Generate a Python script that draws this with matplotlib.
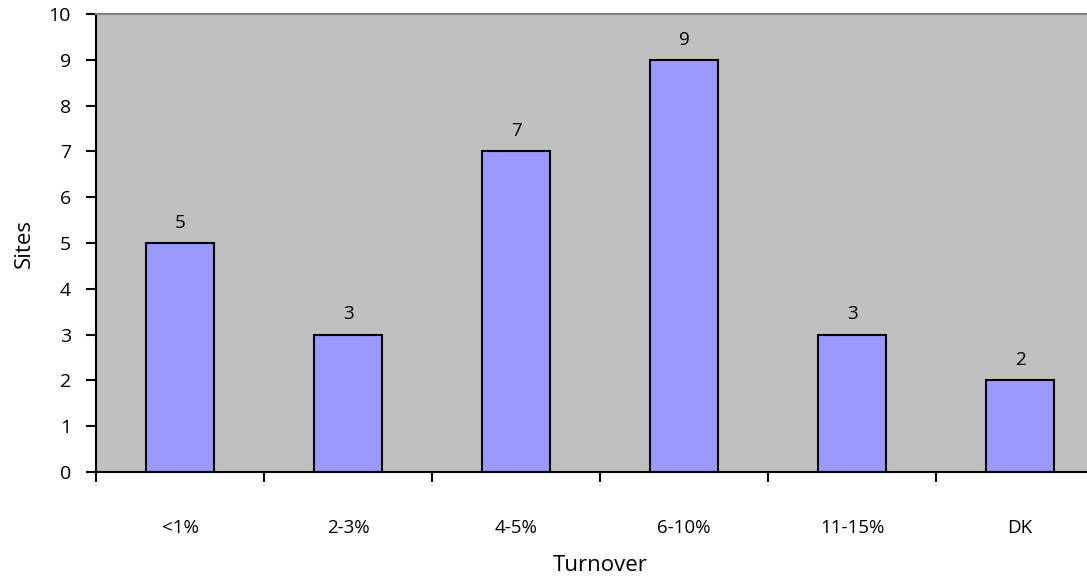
import matplotlib.pyplot as plt
import numpy as np

categories = ['<1%', '2-3%', '4-5%', '6-10%', '11-15%', 'DK']
sites = [5, 3, 7, 9, 3, 2]

plt.rcParams['font.family'] = ['Open Sans', 'DejaVu Sans']

fig = plt.figure(figsize=(10.87, 5.83), dpi=100)
# plot area runs off the right edge, as in the original
ax = fig.add_axes([96 / 1087, 1 - 472 / 583, 1008 / 1087, 458 / 583])
ax.set_facecolor('#C0C0C0')

x = np.arange(len(categories))
ax.bar(x, sites, width=0.41, color='#9999FF', edgecolor='black', linewidth=1.5, zorder=2)
for xi, v in zip(x, sites):
    ax.annotate(str(v), (xi, v), xytext=(0, 8), textcoords='offset points',
                ha='center', va='bottom', fontsize=13.5)

ax.set_xlim(-0.5, 5.5)
ax.set_ylim(0, 10)
ax.set_yticks(range(0, 11))
ax.tick_params(axis='y', direction='out', length=7, width=1.5, labelsize=14, pad=11)

ax.set_xticks(x)
ax.set_xticklabels(categories)
ax.tick_params(axis='x', which='major', length=0, labelsize=13.5, pad=34)
ax.set_xticks(np.arange(-0.5, 6, 1), minor=True)
ax.tick_params(axis='x', which='minor', direction='out', length=7, width=1.5)

for s in ['left', 'bottom']:
    ax.spines[s].set_linewidth(1.5)
ax.spines['top'].set_color('#808080')
ax.spines['top'].set_linewidth(1.5)
ax.spines['right'].set_visible(False)

ax.set_ylabel('Sites', fontsize=16, labelpad=10)
ax.set_xlabel('Turnover', fontsize=16, labelpad=13)

fig.savefig('out.png', dpi=100)
